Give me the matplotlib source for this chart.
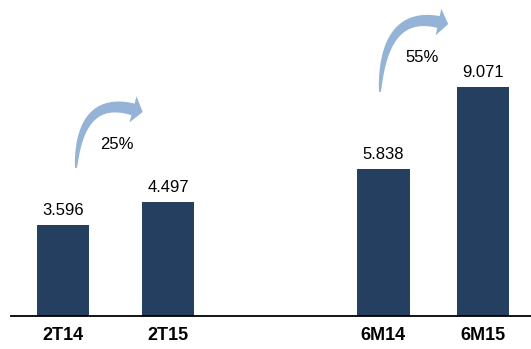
import numpy as np
import matplotlib.pyplot as plt
from matplotlib.patches import Polygon

plt.rcParams['font.family'] = ['Liberation Sans', 'DejaVu Sans']

# Data
periods = ["2T14", "2T15", "6M14", "6M15"]
values = [3.596, 4.497, 5.838, 9.071]
positions = [0, 1, 3.05, 4]
growth_labels = ["25%", "55%"]

bar_color = "#243F60"
arrow_color = "#95B3D7"

fig = plt.figure(figsize=(5.31, 3.49), dpi=100)
ax = fig.add_axes([11 / 531, 33 / 349, 520 / 531, 316 / 349])

ax.bar(positions, values, width=0.5, color=bar_color, zorder=2)
for x, v in zip(positions, values):
    ax.annotate(f"{v:.3f}", (x, v), xytext=(0, 5), textcoords="offset points",
                ha="center", va="bottom", fontsize=12)

ax.set_xlim(-0.495, 4.457)
ax.set_ylim(0, 12.51)
ax.set_xticks(positions)
ax.set_xticklabels(periods, fontsize=13, fontweight="bold")
ax.tick_params(axis="x", length=0, pad=8)
ax.set_yticks([])
for side in ["top", "left", "right"]:
    ax.spines[side].set_visible(False)
ax.spines["bottom"].set_linewidth(1.3)


def curved_arrow(ax, start, ctrl, end, w0=1.5, w1=12, head_w=27, head_len=10):
    # tapered quadratic-bezier arrow, built in display pixels
    p0, p1, p2 = (ax.transData.transform(p) for p in (start, ctrl, end))
    t = np.linspace(0, 1, 80)[:, None]
    pts = (1 - t) ** 2 * p0 + 2 * (1 - t) * t * p1 + t ** 2 * p2
    tang = 2 * (1 - t) * (p1 - p0) + 2 * t * (p2 - p1)
    tang /= np.linalg.norm(tang, axis=1)[:, None]
    norm = np.column_stack([-tang[:, 1], tang[:, 0]])
    w = (w0 + (w1 - w0) * t ** 0.6) / 2
    left = pts + norm * w
    right = pts - norm * w
    d, n = tang[-1], norm[-1]
    head = [p2 + n * head_w / 2, p2 + d * head_len, p2 - n * head_w / 2]
    verts = np.vstack([left, head, right[::-1]])
    ax.add_patch(Polygon(verts, closed=True, transform=None,
                         facecolor=arrow_color, edgecolor="none", zorder=3))


fig.canvas.draw()
curved_arrow(ax, (0.124, 5.86), (0.16, 8.75), (0.667, 8.18))
curved_arrow(ax, (3.019, 8.87), (3.05, 12.1), (3.576, 11.64))

ax.text(0.514, 6.78, growth_labels[0], ha="center", va="center", fontsize=12)
ax.text(3.419, 10.22, growth_labels[1], ha="center", va="center", fontsize=12)

fig.savefig("out.png", dpi=100)
